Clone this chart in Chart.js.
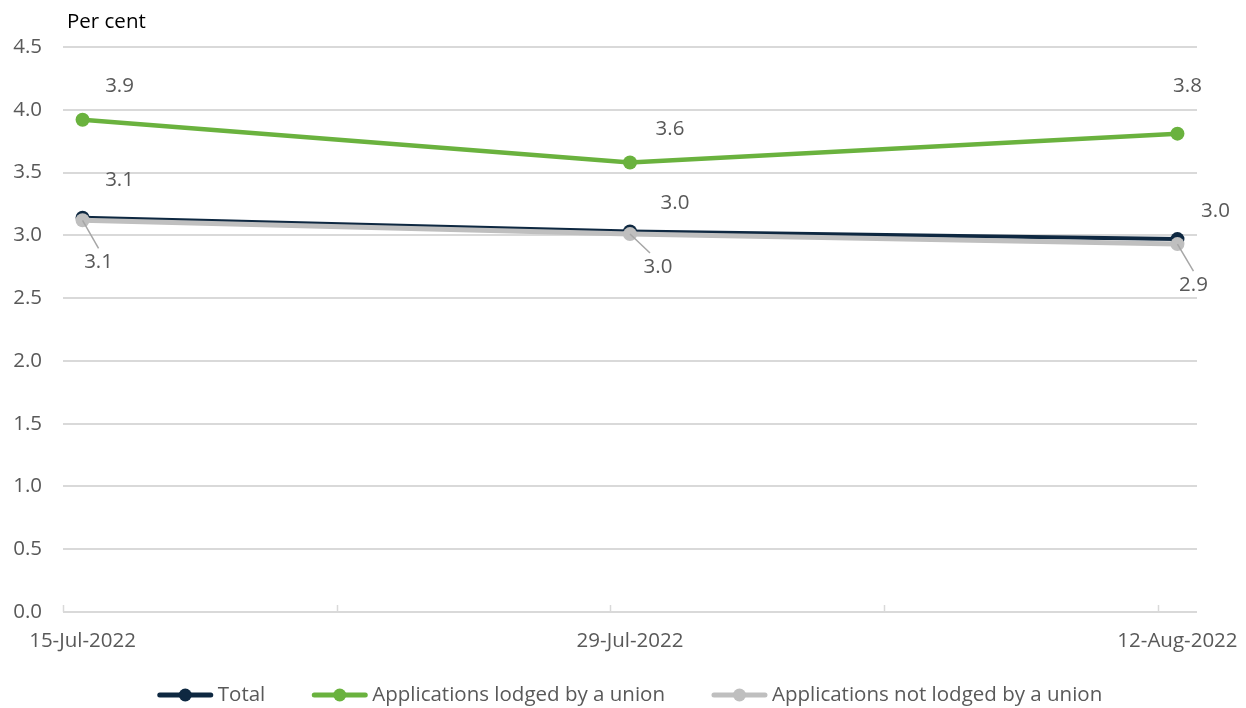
<!DOCTYPE html>
<html><head><meta charset="utf-8">
<script src="https://cdn.jsdelivr.net/npm/chart.js@4"></script>
<style>html,body{margin:0;padding:0;background:#fff}#wrap{width:1246px;height:708px}</style>
</head><body><div id="wrap"><canvas id="c" width="1246" height="708"></canvas></div>
<script>
const dateLabels = ['15-Jul-2022', '29-Jul-2022', '12-Aug-2022'];
const dayIndex = [0, 14, 28];
const totalValues = [3.14, 3.03, 2.97];
const unionValues = [3.92, 3.58, 3.81];
const nonUnionValues = [3.12, 3.01, 2.93];
const totalLabels = ['3.1', '3.0', '3.0'];
const unionLabels = ['3.9', '3.6', '3.8'];
const nonUnionLabels = ['3.1', '3.0', '2.9'];
const yTicks = [0, 0.5, 1, 1.5, 2, 2.5, 3, 3.5, 4, 4.5];
const minorTickDays = [-0.5, 6.5, 13.5, 20.5, 27.5];

const FONT = "'Open Sans', 'Liberation Sans', sans-serif";
const FS = 20.5;
const TXT = '#595959';
const C_TOTAL = '#0e2841', C_UNION = '#6ab23e', C_NON = '#bfbfbf';

const pts = vals => vals.map((v, i) => ({x: dayIndex[i], y: v}));

const labelCfg = [
  {texts: totalLabels, offs: [[37,-38],[45,-28],[38,-28]], leader: false},
  {texts: unionLabels, offs: [[37,-34],[40,-33],[10,-47]], leader: false},
  {texts: nonUnionLabels, offs: [[16,42],[28,33],[16,41]], leader: true}
];

const labelPlugin = {
  id: 'labels',
  afterDatasetsDraw(chart) {
    const ctx = chart.ctx;
    ctx.save();
    ctx.font = FS + 'px ' + FONT;
    ctx.fillStyle = TXT;
    ctx.textAlign = 'center';
    ctx.textBaseline = 'middle';
    labelCfg.forEach((cfg, di) => {
      const meta = chart.getDatasetMeta(di);
      meta.data.forEach((p, i) => {
        const [dx, dy] = cfg.offs[i];
        const lx = p.x + dx, ly = p.y + dy;
        if (cfg.leader) {
          ctx.strokeStyle = '#a6a6a6';
          ctx.lineWidth = 1.5;
          ctx.beginPath();
          ctx.moveTo(p.x, p.y);
          const ex = dx > 20 ? lx - 8 : lx, ey = ly - 14;
          ctx.lineTo(ex, ey);
          ctx.stroke();
        }
        ctx.fillText(cfg.texts[i], lx, ly);
      });
    });
    ctx.restore();
  }
};

const extrasPlugin = {
  id: 'extras',
  afterDraw(chart) {
    const ctx = chart.ctx;
    const xs = chart.scales.x, ys = chart.scales.y;
    ctx.save();
    ctx.strokeStyle = '#d9d9d9';
    ctx.lineWidth = 1.5;
    const y0 = ys.getPixelForValue(0);
    minorTickDays.forEach(d => {
      const px = Math.round(xs.getPixelForValue(d)) + 0.5;
      ctx.beginPath(); ctx.moveTo(px, y0); ctx.lineTo(px, y0 - 7); ctx.stroke();
    });
    ctx.fillStyle = '#000';
    ctx.font = FS + 'px ' + FONT;
    ctx.textAlign = 'left';
    ctx.textBaseline = 'middle';
    ctx.fillText('Per cent', 67, 22);
    const items = chart.data.datasets.map(ds => ({text: ds.label, color: ds.borderColor}));
    const sw = 55, gap = 5, between = 47;
    let total = 0;
    items.forEach((it, i) => { it.w = ctx.measureText(it.text).width; total += sw + gap + it.w + (i < items.length - 1 ? between : 0); });
    let x = (xs.left + xs.right) / 2 - total / 2;
    const ly = 695;
    items.forEach(it => {
      ctx.strokeStyle = it.color; ctx.lineWidth = 5; ctx.lineCap = 'round';
      ctx.beginPath(); ctx.moveTo(x + 2, ly); ctx.lineTo(x + sw - 2, ly); ctx.stroke();
      ctx.fillStyle = it.color;
      ctx.beginPath(); ctx.arc(x + sw / 2, ly, 6.5, 0, Math.PI * 2); ctx.fill();
      ctx.fillStyle = TXT;
      ctx.fillText(it.text, x + sw + gap, ly);
      x += sw + gap + it.w + between;
    });
    ctx.restore();
  }
};

new Chart(document.getElementById('c'), {
  type: 'line',
  data: {
    datasets: [
      {label: 'Total', data: pts(totalValues), borderColor: C_TOTAL, backgroundColor: C_TOTAL, borderWidth: 4, pointRadius: 7, pointBorderWidth: 0, order: 2},
      {label: 'Applications lodged by a union', data: pts(unionValues), borderColor: C_UNION, backgroundColor: C_UNION, borderWidth: 4.5, pointRadius: 7, pointBorderWidth: 0, order: 1},
      {label: 'Applications not lodged by a union', data: pts(nonUnionValues), borderColor: C_NON, backgroundColor: C_NON, borderWidth: 5, pointRadius: 7, pointBorderWidth: 0, order: 0}
    ]
  },
  options: {
    responsive: false,
    animation: false,
    layout: {padding: {top: 47, right: 49, bottom: 0, left: 0}},
    plugins: {legend: {display: false}, tooltip: {enabled: false}},
    scales: {
      x: {
        type: 'linear', min: -0.5, max: 28.5,
        afterBuildTicks: s => { s.ticks = dayIndex.map(v => ({value: v})); },
        afterFit: s => { s.height = 96; s.paddingLeft = 0; s.paddingRight = 0; },
        grid: {display: false, drawTicks: false},
        border: {display: false},
        ticks: {
          autoSkip: false, maxRotation: 0, padding: 17,
          color: TXT, font: {family: FONT, size: FS},
          callback: v => dateLabels[dayIndex.indexOf(v)]
        }
      },
      y: {
        min: 0, max: 4.5,
        afterBuildTicks: s => { s.ticks = yTicks.map(v => ({value: v})); },
        afterFit: s => { s.width = 63; s.paddingTop = 0; s.paddingBottom = 0; },
        grid: {color: '#d9d9d9', lineWidth: 2, drawTicks: false},
        border: {display: false},
        ticks: {padding: 21, color: TXT, font: {family: FONT, size: FS}, callback: v => v.toFixed(1)}
      }
    }
  },
  plugins: [labelPlugin, extrasPlugin]
});
</script></body></html>
